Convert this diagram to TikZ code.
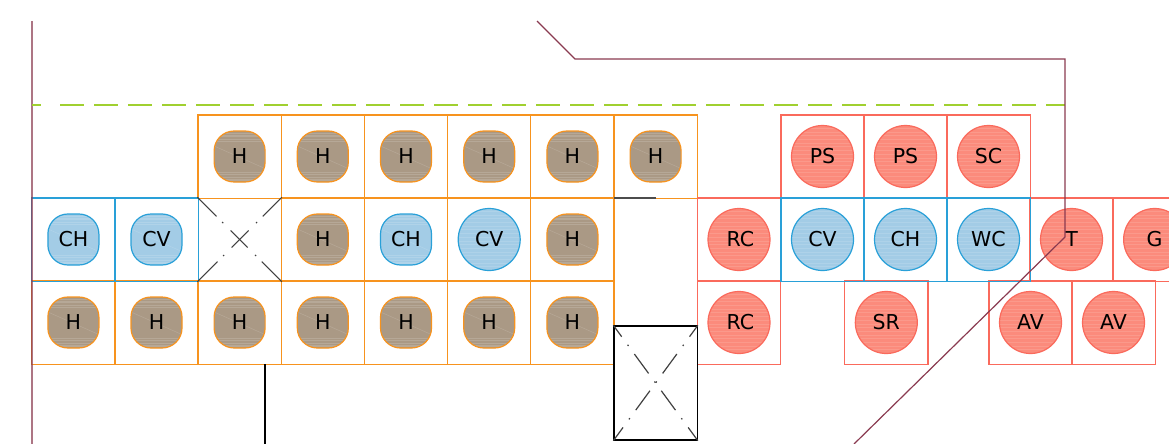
\documentclass[tikz,border=0pt]{standalone}
\usepackage{fontspec}
\setmainfont{DejaVu Sans}
\usetikzlibrary{calc}
\definecolor{cellorange}{HTML}{F7931E}
\definecolor{cellblue}{HTML}{29A0D8}
\definecolor{cellred}{HTML}{FA6A5C}
\definecolor{fillbrown}{HTML}{AA9985}
\definecolor{fillblue}{HTML}{A3CCE6}
\definecolor{fillred}{HTML}{FB8B7C}
\definecolor{wirered}{HTML}{8A3A50}
\definecolor{dashgreen}{HTML}{A0D030}
\tikzset{
	cellbox/.style={draw, line width=1.2pt, minimum size=83.2pt, inner sep=0pt},
	streakend/.style={path picture={
		\foreach \k in {2,4,5,8,10,41,43,46,48,49}
			\draw[white, opacity=0.15, line width=1pt] ($(path picture bounding box.north west)+(0,\k)$) -- ++(60,0);
		\draw[white, opacity=0.15, line width=0.5pt] ($(path picture bounding box.north west)+(0,15)$) -- ++(52,23);
	}},
	streakall/.style={path picture={
		\foreach \k in {3,7,10,14,18,21,25,29,33,36,40,44,47,51,55,58}
			\draw[white, opacity=0.12, line width=1pt] ($(path picture bounding box.north west)+(0,\k)$) -- ++(64,0);
	}},
	softsq/.style={draw, line width=1.2pt, rounded corners=20pt, minimum size=51pt, inner sep=0pt, streakend, font=\fontsize{20.5}{24}\selectfont},
	softci/.style={draw, line width=1.2pt, circle, minimum size=62pt, inner sep=0pt, streakall, font=\fontsize{20.5}{24}\selectfont},
	hsq/.style={softsq, draw=cellorange, fill=fillbrown},
	bsq/.style={softsq, draw=cellblue, fill=fillblue},
	bci/.style={softci, draw=cellblue, fill=fillblue},
	rci/.style={softci, draw=cellred, fill=fillred},
	wire/.style={draw=wirered, line width=1.2pt},
	crossline/.style={line width=1.2pt, color=black!75},
}
\def\unit[#1,#2](#3)(#4,#5)#6{\node[cellbox, draw=#1] (c#3) at (#4,#5) {}; \node[#2] (s#3) at (c#3) {#6};}

\begin{document}
\begin{tikzpicture}[x=1pt, y=-1pt]
	\useasboundingbox (0,0) rectangle (1169,444);

	% top row
	\foreach \n/\x in {a/239.6, b/322.8, c/406, d/489.2, e/572.4, f/655.6}
		\unit[cellorange,hsq](top\n)(\x,156.5){H};
	\unit[cellred,rci](ps1)(822.5,156.5){PS};
	\unit[cellred,rci](ps2)(905.5,156.5){PS};
	\unit[cellred,rci](sc)(988.5,156.5){SC};

	% bottom row
	\foreach \n/\x in {a/73.4, b/156.5, c/239.6, d/322.8, e/406, f/489.2, g/572.4}
		\unit[cellorange,hsq](low\n)(\x,322.5){H};
	\unit[cellred,rci](rc2)(739,322.5){\kern3pt RC};
	\unit[cellred,rci](sr)(886.3,322.5){SR};
	\unit[cellred,rci](av1)(1030.5,322.5){AV};
	\unit[cellred,rci](av2)(1113.5,322.5){AV};

	% middle row
	\unit[cellblue,bsq](ch1)(73.4,239.5){CH};
	\unit[cellblue,bsq](cv1)(156.5,239.5){CV};
	\unit[cellorange,hsq](mid1)(322.8,239.5){H};
	\unit[cellorange,bsq](ch2)(406,239.5){CH};
	\unit[cellorange,bci](cv2)(489.2,239.5){CV};
	\unit[cellorange,hsq](mid2)(572.4,239.5){H};
	\unit[cellred,rci](rc1)(739,239.5){\kern3pt RC};
	\unit[cellred,rci](t)(1071.5,239.5){T};
	\unit[cellred,rci](g)(1154.6,239.5){G};
	\unit[cellblue,bci](cv3)(822.5,239.5){CV};
	\unit[cellblue,bci](ch3)(905.5,239.5){CH};
	\unit[cellblue,bci](wc)(988.5,239.5){WC};

	% empty crossed boxes
	\node[cellbox, draw=none] (xa) at (239.6,239.5) {};
	\draw[crossline, dash pattern=on 27pt off 8pt on 1.5pt off 10.5pt on 24pt off 10.5pt on 1.5pt off 8pt on 27pt off 0pt] (xa.north west) -- (xa.south east);
	\draw[crossline, dash pattern=on 27pt off 8pt on 1.5pt off 10.5pt on 24pt off 10.5pt on 1.5pt off 8pt on 27pt off 0pt] (xa.north east) -- (xa.south west);
	\node[draw=black, line width=1.2pt, minimum width=83.2pt, minimum height=114pt, inner sep=0pt] (xb) at (655.6,383) {};
	\draw[crossline, dash pattern=on 14pt off 10pt on 1.5pt off 10pt on 24pt off 10pt on 1.5pt off 10pt on 24pt off 10pt on 1.5pt off 10pt on 14pt off 0pt] (xb.north west) -- (xb.south east);
	\draw[crossline, dash pattern=on 14pt off 10pt on 1.5pt off 10pt on 24pt off 10pt on 1.5pt off 10pt on 24pt off 10pt on 1.5pt off 10pt on 14pt off 0pt] (xb.north east) -- (xb.south west);

	% loose lines
	\coordinate (ltop) at (32,21);
	\coordinate (lbot) at (32,444);
	\draw[wire, opacity=0.7] (ltop) -- (lbot);

	\coordinate (da) at (32,105);
	\coordinate (db) at (41,105);
	\coordinate (dc) at (60,105);
	\coordinate (dd) at (1065,105);
	\draw[dashgreen, line width=1.2pt] (da) -- (db);
	\draw[dashgreen, line width=1.2pt, dash pattern=on 24pt off 10pt] (dc) -- (dd);

	\coordinate (m1) at (537,21);
	\coordinate (m2) at (575,59);
	\coordinate (m3) at (1065,59);
	\coordinate (m4) at (1065,237);
	\coordinate (m5) at (854,444);
	\draw[wire] (m1) -- (m2) -- (m3) -- (m4) -- (m5);

	\coordinate (sa) at (265,364);
	\coordinate (sb) at (265,444);
	\draw[black, line width=1.2pt] (sa) -- (sb);
	\coordinate (sc1) at (614,198);
	\coordinate (sc2) at (656,198);
	\draw[black!70, line width=1.2pt] (sc1) -- (sc2);
\end{tikzpicture}
\end{document}
